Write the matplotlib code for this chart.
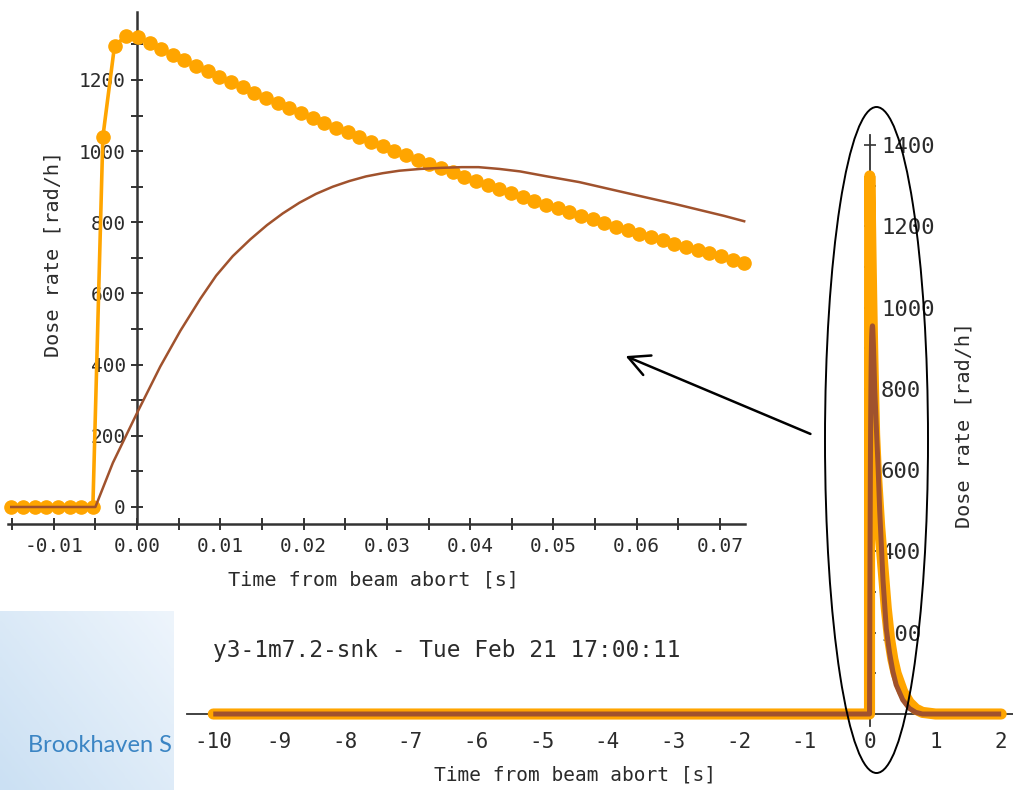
import numpy as np
import matplotlib.pyplot as plt
from matplotlib.patches import Ellipse, FancyArrowPatch
from matplotlib.colors import LinearSegmentedColormap

W, H = 1013, 790
MONO = 'DejaVu Sans Mono'
TXT = '#2b2b2b'
ORANGE = '#ffa500'
BROWN = '#a0522d'

# ---- data: zoomed window (s, rad/h) ----
loss_t = [-0.0151, -0.0137, -0.0123, -0.0109, -0.0095, -0.0081, -0.0067, -0.0053,
          -0.0041, -0.0027, -0.0013,
          0.0001, 0.0015, 0.0029, 0.0043, 0.0057, 0.0071, 0.0085, 0.0099, 0.0113, 0.0127,
          0.0141, 0.0155, 0.0169, 0.0183, 0.0197, 0.0211, 0.0225, 0.0239, 0.0253, 0.0267,
          0.0281, 0.0295, 0.0309, 0.0323, 0.0337, 0.0351, 0.0365, 0.0379, 0.0393, 0.0407,
          0.0421, 0.0435, 0.0449, 0.0463, 0.0477, 0.0491, 0.0505, 0.0519, 0.0533, 0.0547,
          0.0561, 0.0575, 0.0589, 0.0603, 0.0617, 0.0631, 0.0645, 0.0659, 0.0673, 0.0687,
          0.0701, 0.0715, 0.0729]
loss_orange = [0, 0, 0, 0, 0, 0, 0, 0,
               1040, 1296, 1324,
               1320, 1304, 1287, 1271, 1255, 1240, 1224, 1209, 1194, 1179,
               1164, 1149, 1135, 1121, 1107, 1093, 1079, 1066, 1053, 1039,
               1026, 1014, 1001, 988, 976, 964, 952, 940, 928, 916,
               905, 894, 883, 871, 861, 850, 839, 829, 818, 808,
               798, 788, 778, 768, 759, 749, 740, 731, 722, 713,
               704, 695, 686]

brown_t = [-0.0151, -0.0050, -0.0029, 0.0, 0.0028, 0.0052, 0.0076, 0.0095, 0.0115,
           0.0136, 0.0156, 0.0175, 0.0195, 0.0215, 0.0235, 0.0255, 0.0275, 0.0295,
           0.0315, 0.0340, 0.0365, 0.0390, 0.0410, 0.0435, 0.0460, 0.0490, 0.0531,
           0.0570, 0.0611, 0.0645, 0.0675, 0.0705, 0.0729]
brown_v = [0, 0, 124, 264, 395, 495, 585, 650, 705, 752, 792, 825, 855, 880, 900,
           916, 929, 938, 945, 950, 953, 955, 955, 950, 943, 930, 913, 892, 870,
           852, 835, 818, 803]

# ---- data: full window tails ----
orange_tail_t = [0.10, 0.15, 0.20, 0.25, 0.30, 0.35, 0.40, 0.50, 0.60, 0.70, 0.80, 1.00, 2.00]
orange_tail_v = [590, 460, 360, 260, 185, 135, 100, 55, 28, 12, 4, 0, 0]
brown_tail_t = [0.10, 0.125, 0.15, 0.20, 0.25, 0.30, 0.35, 0.40, 0.50, 0.60, 0.70, 0.80, 2.00]
brown_tail_v = [700, 610, 500, 330, 210, 150, 105, 72, 35, 14, 4, 0, 0]

zoom_xticks = [-0.01, 0.0, 0.01, 0.02, 0.03, 0.04, 0.05, 0.06, 0.07]
zoom_xlabels = ['-0.01', '0.00', '0.01', '0.02', '0.03', '0.04', '0.05', '0.06', '0.07']
zoom_yticks = [0, 200, 400, 600, 800, 1000, 1200]
full_xticks = [-10, -9, -8, -7, -6, -5, -4, -3, -2, -1, 0, 1, 2]
full_yticks = [200, 400, 600, 800, 1000, 1200, 1400]

title = 'y3-1m7.2-snk - Tue Feb 21 17:00:11'
xlab = 'Time from beam abort [s]'
ylab = 'Dose rate [rad/h]'


def fx(px):
    return px / W


def fy(py):
    return 1 - py / H


fig = plt.figure(figsize=(W / 100, H / 100), dpi=100)
fig.patch.set_facecolor('white')

# slide background panel at bottom left
bg = fig.add_axes([0, 0, fx(173), 179 / H])
cm = LinearSegmentedColormap.from_list('slide', ['#cbe0f3', '#eef5fc'])
gx, gy = np.meshgrid(np.linspace(0, 1, 60), np.linspace(0, 1, 60))
bg.imshow(0.55 * gx + 0.45 * (1 - gy), cmap=cm, extent=[0, 1, 0, 1], aspect='auto')
bg.text(28 / 173, (790 - 745) / 179, 'Brookhaven S', color='#3b85c4',
        fontsize=17, family='Lato', va='center', ha='left', clip_on=True)
bg.set_axis_off()

# ---- full-range chart ----
axb = fig.add_axes([fx(187), fy(726.2), (W - 187) / W, (726.2 - 134.9) / H])
axb.set_facecolor('none')
full_t_o = [-10.0] + loss_t + orange_tail_t
full_v_o = [0] + loss_orange + orange_tail_v
full_t_b = [-10.0] + brown_t + brown_tail_t
full_v_b = [0] + brown_v + brown_tail_v
axb.plot(full_t_o, full_v_o, color=ORANGE, lw=8, solid_capstyle='round',
         solid_joinstyle='round', zorder=3)
axb.plot(full_t_b, full_v_b, color=BROWN, lw=3.6, solid_capstyle='butt', zorder=4)
axb.set_xlim(-10.40, 2.18)
axb.set_ylim(-30, 1425)
for s in ['top', 'left']:
    axb.spines[s].set_visible(False)
axb.spines['right'].set_position(('data', 0))
axb.spines['bottom'].set_position(('data', 0))
for s in ['right', 'bottom']:
    axb.spines[s].set_color('#333333')
    axb.spines[s].set_linewidth(1.3)
axb.yaxis.tick_right()
axb.set_yticks(full_yticks)
axb.set_yticks([100, 300, 500, 700, 900, 1100, 1300], minor=True)
axb.tick_params(axis='y', which='both', direction='inout', length=8, width=1.2,
                color='#333333', pad=4, labelsize=16, labelcolor=TXT)
axb.set_xticks(full_xticks)
axb.set_xticklabels([str(v) for v in full_xticks])
axb.tick_params(axis='x', length=0, pad=13, labelsize=15, labelcolor=TXT)
for lab in axb.get_xticklabels() + axb.get_yticklabels():
    lab.set_family(MONO)

# ---- zoomed chart ----
axt = fig.add_axes([fx(8), fy(524), 737 / W, 512 / H])
axt.set_facecolor('none')
axt.plot(loss_t, loss_orange, color=ORANGE, lw=2.6, marker='o', ms=9.5,
         mec=ORANGE, mfc=ORANGE, zorder=3, clip_on=False)
axt.plot(brown_t, brown_v, color=BROWN, lw=1.8, zorder=4, clip_on=False)
axt.set_xlim(-0.01549, 0.0730)
axt.set_ylim(-47.8, 1391)
for s in ['top', 'right']:
    axt.spines[s].set_visible(False)
axt.spines['left'].set_position(('data', 0))
for s in ['left', 'bottom']:
    axt.spines[s].set_color('#333333')
    axt.spines[s].set_linewidth(1.8)
axt.set_xticks(zoom_xticks)
axt.set_xticklabels(zoom_xlabels)
axt.set_xticks([-0.015, -0.005, 0.005, 0.015, 0.025, 0.035, 0.045, 0.055, 0.065], minor=True)
axt.set_yticks(zoom_yticks)
axt.set_yticks([100, 300, 500, 700, 900, 1100, 1300], minor=True)
axt.tick_params(which='both', direction='inout', length=8, width=1.4, color='#333333',
                labelsize=14, labelcolor=TXT)
axt.tick_params(axis='y', pad=4)
axt.tick_params(axis='x', pad=5)
for lab in axt.get_xticklabels() + axt.get_yticklabels():
    lab.set_family(MONO)

# axis labels and title
fig.text(fx(373), fy(580), xlab, ha='center', va='center', family=MONO, fontsize=14.5, color=TXT)
fig.text(fx(53), fy(254), ylab, ha='center', va='center', rotation=90, family=MONO,
         fontsize=14.5, color=TXT)
fig.text(fx(213), fy(650), title, ha='left', va='center', family=MONO, fontsize=16.4, color=TXT)
fig.text(fx(575), fy(775), xlab, ha='center', va='center', family=MONO, fontsize=14, color=TXT)
fig.text(fx(964), fy(425), ylab, ha='center', va='center', rotation=90, family=MONO,
         fontsize=14.5, color=TXT)

# highlight ellipse and arrow
fig.add_artist(Ellipse((fx(876.5), fy(440)), 103 / W, 666 / H, transform=fig.transFigure,
                       fill=False, ec='black', lw=1.4, zorder=10))
fig.add_artist(FancyArrowPatch((fx(813), fy(435)), (fx(623), fy(355)),
                               transform=fig.transFigure,
                               arrowstyle='->,head_length=0.75,head_width=0.38',
                               mutation_scale=20, lw=1.8, color='black', zorder=10))

fig.savefig('out.png', dpi=100)
